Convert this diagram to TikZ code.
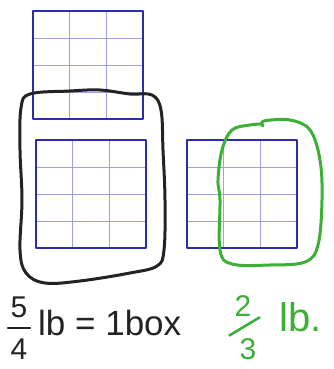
\documentclass[tikz,border=0pt]{standalone}
\usepackage{amsmath}
\usepackage{fontspec}
\setmainfont{Liberation Sans}
\usepackage{xcolor}
\usetikzlibrary{calc}
\definecolor{gridblue}{RGB}{45,45,170}
\definecolor{cellblue}{RGB}{160,160,225}
\definecolor{penblack}{RGB}{35,35,35}
\definecolor{pengreen}{RGB}{60,175,55}
\newcommand{\boxgrid}[2]{%
 \draw[cellline] ($(#1)+(110/3,0)$) -- ++(0,108) ($(#1)+(220/3,0)$) -- ++(0,108);
 \foreach \r in {1,2,3} {\draw[cellline] ($(#1)+(0,\r*27)$) -- ++(110,0);}
 \draw[boxline] (#1) rectangle ++(110,108);
 \coordinate (#2) at ($(#1)+(55,54)$);}
\begin{document}
\begin{tikzpicture}[x=1pt, y=-1pt, every node/.style={font=\fontsize{35}{40}\selectfont, inner sep=0pt},
 boxline/.style={draw=gridblue, line width=2.2pt, line join=round},
 cellline/.style={draw=cellblue, line width=0.7pt},
 loopline/.style={line width=3pt, line cap=round, line join=round},
 digit/.style={font=\fontsize{30}{34}\selectfont, anchor=center},
 barline/.style={line width=2.6pt, line cap=round}]
\useasboundingbox (0,0) rectangle (333,369);
% grids
\coordinate (topcorner) at (33,11);
\coordinate (leftcorner) at (36,140);
\coordinate (rightcorner) at (187,140);
\boxgrid{topcorner}{topbox}
\boxgrid{leftcorner}{leftbox}
\boxgrid{rightcorner}{rightbox}
% loops
\draw[loopline, draw=penblack] plot[smooth cycle, tension=0.6] coordinates {(30,94) (70,91) (100,90) (130,94) (152,95) (161,110) (163,150) (165,200) (164,250) (157,266) (130,273) (80,281) (45,283) (26,273) (20,250) (22,200) (20,150) (21,108)};
\draw[loopline, draw=pengreen] plot[smooth, tension=0.6] coordinates {(263,126) (264,121) (290,120) (310,130) (320,160) (322,200) (318,245) (305,262) (270,265) (232,264) (220,250) (220,200) (218,180) (222,150) (232,130) (250,125) (262,124)};
% labels
\node[penblack, digit] (fivenum) at (19,307) {5};
\node[penblack, digit] (fourden) at (19,349) {4};
\draw[barline, draw=penblack] ($(fivenum.south)!0.5!(fourden.north)+(-11,0)$) -- ++(22,0);
\node[penblack, anchor=base west] (boxeq) at (38,335) {lb = 1box};
\node[pengreen, digit] (twonum) at (243,306) {2};
\node[pengreen, digit] (threeden) at (248,349) {3};
\draw[barline, draw=pengreen] ($(twonum.south)!0.5!(threeden.north)+(-16,8)$) -- ++(30,-18);
\node[pengreen, anchor=base west, font=\fontsize{40}{44}\selectfont] (greenlb) at (279,331) {lb.};
\end{tikzpicture}
\end{document}
